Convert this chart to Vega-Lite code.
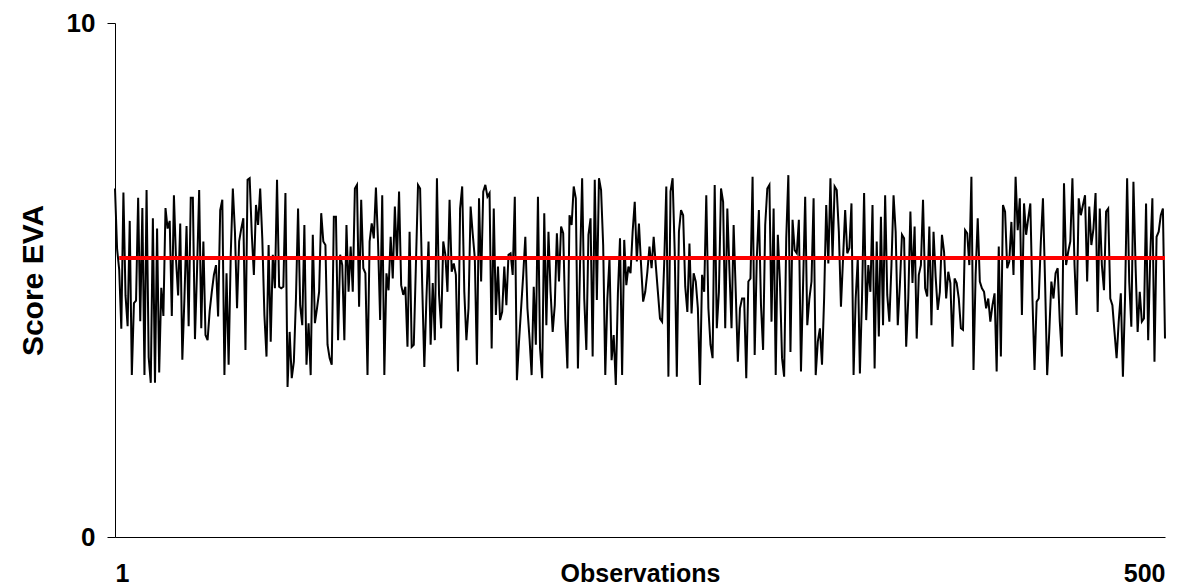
{
  "$schema": "https://vega.github.io/schema/vega-lite/v6.json",
  "width": 1050,
  "height": 514,
  "autosize": {"type": "none"},
  "padding": {"left": 115, "top": 23, "right": 33, "bottom": 48},
  "background": "white",
  "config": {"view": {"stroke": null}, "font": "Liberation Sans"},
  "datasets": {
    "scores": [
      {"o":1,"v":6.78},{"o":2,"v":5.6},{"o":3,"v":5.2},{"o":4,"v":4.05},{"o":5,"v":6.7},{"o":6,"v":4.7},{"o":7,"v":4.1},{"o":8,"v":6.15},{"o":9,"v":3.15},{"o":10,"v":4.55},
      {"o":11,"v":4.6},{"o":12,"v":6.6},{"o":13,"v":4.2},{"o":14,"v":6.4},{"o":15,"v":3.15},{"o":16,"v":6.75},{"o":17,"v":3.5},{"o":18,"v":3.0},{"o":19,"v":6.2},{"o":20,"v":3.0},
      {"o":21,"v":6.0},{"o":22,"v":3.2},{"o":23,"v":4.85},{"o":24,"v":4.3},{"o":25,"v":6.4},{"o":26,"v":6.0},{"o":27,"v":6.15},{"o":28,"v":4.3},{"o":29,"v":6.65},{"o":30,"v":5.4},
      {"o":31,"v":4.7},{"o":32,"v":6.1},{"o":33,"v":3.45},{"o":34,"v":4.65},{"o":35,"v":6.05},{"o":36,"v":4.1},{"o":37,"v":6.6},{"o":38,"v":6.6},{"o":39,"v":3.85},{"o":40,"v":5.2},
      {"o":41,"v":6.75},{"o":42,"v":4.06},{"o":43,"v":5.75},{"o":44,"v":3.93},{"o":45,"v":3.83},{"o":46,"v":4.4},{"o":47,"v":4.77},{"o":48,"v":5.1},{"o":49,"v":5.29},{"o":50,"v":4.29},
      {"o":51,"v":6.36},{"o":52,"v":6.56},{"o":53,"v":3.15},{"o":54,"v":5.13},{"o":55,"v":3.35},{"o":56,"v":5.49},{"o":57,"v":6.78},{"o":58,"v":5.94},{"o":59,"v":4.45},{"o":60,"v":5.75},
      {"o":61,"v":6.0},{"o":62,"v":6.2},{"o":63,"v":3.64},{"o":64,"v":6.95},{"o":65,"v":6.98},{"o":66,"v":5.9},{"o":67,"v":5.1},{"o":68,"v":6.46},{"o":69,"v":6.07},{"o":70,"v":6.78},
      {"o":71,"v":5.81},{"o":72,"v":4.32},{"o":73,"v":3.51},{"o":74,"v":5.68},{"o":75,"v":3.8},{"o":76,"v":5.49},{"o":77,"v":4.84},{"o":78,"v":6.95},{"o":79,"v":4.87},{"o":80,"v":4.84},
      {"o":81,"v":4.87},{"o":82,"v":6.69},{"o":83,"v":2.92},{"o":84,"v":3.99},{"o":85,"v":3.09},{"o":86,"v":3.41},{"o":87,"v":4.64},{"o":88,"v":6.39},{"o":89,"v":4.51},{"o":90,"v":4.12},
      {"o":91,"v":6.07},{"o":92,"v":3.35},{"o":93,"v":4.16},{"o":94,"v":3.15},{"o":95,"v":5.88},{"o":96,"v":4.16},{"o":97,"v":4.45},{"o":98,"v":4.77},{"o":99,"v":6.3},{"o":100,"v":5.75},
      {"o":101,"v":5.68},{"o":102,"v":3.74},{"o":103,"v":3.48},{"o":104,"v":3.35},{"o":105,"v":6.23},{"o":106,"v":6.23},{"o":107,"v":3.83},{"o":108,"v":5.49},{"o":109,"v":5.29},{"o":110,"v":3.83},
      {"o":111,"v":6.07},{"o":112,"v":4.77},{"o":113,"v":5.65},{"o":114,"v":4.77},{"o":115,"v":6.78},{"o":116,"v":6.85},{"o":117,"v":4.48},{"o":118,"v":6.56},{"o":119,"v":5.23},{"o":120,"v":5.13},
      {"o":121,"v":3.15},{"o":122,"v":5.75},{"o":123,"v":6.1},{"o":124,"v":5.81},{"o":125,"v":6.8},{"o":126,"v":5.75},{"o":127,"v":4.22},{"o":128,"v":6.65},{"o":129,"v":3.15},{"o":130,"v":5.13},
      {"o":131,"v":4.8},{"o":132,"v":5.84},{"o":133,"v":5.03},{"o":134,"v":6.43},{"o":135,"v":5.39},{"o":136,"v":6.72},{"o":137,"v":4.9},{"o":138,"v":4.71},{"o":139,"v":4.87},{"o":140,"v":3.7},
      {"o":141,"v":5.94},{"o":142,"v":3.7},{"o":143,"v":3.74},{"o":144,"v":5.29},{"o":145,"v":6.85},{"o":146,"v":6.78},{"o":147,"v":4.9},{"o":148,"v":3.31},{"o":149,"v":4.64},{"o":150,"v":5.75},
      {"o":151,"v":3.74},{"o":152,"v":4.94},{"o":153,"v":3.83},{"o":154,"v":6.98},{"o":155,"v":4.71},{"o":156,"v":4.06},{"o":157,"v":5.75},{"o":158,"v":5.49},{"o":159,"v":4.77},{"o":160,"v":6.56},
      {"o":161,"v":5.16},{"o":162,"v":5.32},{"o":163,"v":5.1},{"o":164,"v":3.22},{"o":165,"v":6.39},{"o":166,"v":6.82},{"o":167,"v":4.77},{"o":168,"v":3.83},{"o":169,"v":4.45},{"o":170,"v":6.43},
      {"o":171,"v":5.9},{"o":172,"v":5.42},{"o":173,"v":3.35},{"o":174,"v":6.59},{"o":175,"v":4.97},{"o":176,"v":6.72},{"o":177,"v":6.85},{"o":178,"v":6.62},{"o":179,"v":6.69},{"o":180,"v":3.67},
      {"o":181,"v":6.39},{"o":182,"v":4.32},{"o":183,"v":5.26},{"o":184,"v":4.22},{"o":185,"v":4.38},{"o":186,"v":5.26},{"o":187,"v":4.51},{"o":188,"v":5.49},{"o":189,"v":5.52},{"o":190,"v":5.1},
      {"o":191,"v":6.62},{"o":192,"v":3.05},{"o":193,"v":3.8},{"o":194,"v":4.45},{"o":195,"v":5.1},{"o":196,"v":5.84},{"o":197,"v":4.45},{"o":198,"v":3.86},{"o":199,"v":3.15},{"o":200,"v":4.87},
      {"o":201,"v":3.74},{"o":202,"v":6.62},{"o":203,"v":3.67},{"o":204,"v":3.09},{"o":205,"v":6.3},{"o":206,"v":4.12},{"o":207,"v":5.94},{"o":208,"v":4.77},{"o":209,"v":3.99},{"o":210,"v":4.51},
      {"o":211,"v":5.91},{"o":212,"v":4.97},{"o":213,"v":6.04},{"o":214,"v":5.91},{"o":215,"v":4.25},{"o":216,"v":3.28},{"o":217,"v":6.26},{"o":218,"v":6.07},{"o":219,"v":6.82},{"o":220,"v":6.59},
      {"o":221,"v":3.28},{"o":222,"v":5.29},{"o":223,"v":6.98},{"o":224,"v":4.64},{"o":225,"v":3.64},{"o":226,"v":5.88},{"o":227,"v":6.2},{"o":228,"v":3.51},{"o":229,"v":6.95},{"o":230,"v":4.61},
      {"o":231,"v":6.98},{"o":232,"v":6.75},{"o":233,"v":5.68},{"o":234,"v":3.15},{"o":235,"v":4.64},{"o":236,"v":5.42},{"o":237,"v":3.44},{"o":238,"v":3.93},{"o":239,"v":2.96},{"o":240,"v":4.74},
      {"o":241,"v":5.81},{"o":242,"v":3.15},{"o":243,"v":5.78},{"o":244,"v":4.9},{"o":245,"v":5.26},{"o":246,"v":5.13},{"o":247,"v":5.94},{"o":248,"v":6.52},{"o":249,"v":5.36},{"o":250,"v":6.1},
      {"o":251,"v":5.3},{"o":252,"v":4.58},{"o":253,"v":4.77},{"o":254,"v":5.16},{"o":255,"v":5.65},{"o":256,"v":5.23},{"o":257,"v":5.84},{"o":258,"v":5.29},{"o":259,"v":4.77},{"o":260,"v":4.25},
      {"o":261,"v":4.19},{"o":262,"v":5.32},{"o":263,"v":6.82},{"o":264,"v":3.12},{"o":265,"v":6.72},{"o":266,"v":6.98},{"o":267,"v":5.55},{"o":268,"v":3.12},{"o":269,"v":5.94},{"o":270,"v":6.36},
      {"o":271,"v":6.26},{"o":272,"v":4.87},{"o":273,"v":4.38},{"o":274,"v":5.71},{"o":275,"v":4.35},{"o":276,"v":5.13},{"o":277,"v":4.97},{"o":278,"v":4.45},{"o":279,"v":2.96},{"o":280,"v":5.1},
      {"o":281,"v":4.77},{"o":282,"v":6.65},{"o":283,"v":4.45},{"o":284,"v":3.74},{"o":285,"v":3.48},{"o":286,"v":6.85},{"o":287,"v":4.06},{"o":288,"v":4.77},{"o":289,"v":6.78},{"o":290,"v":6.52},
      {"o":291,"v":4.06},{"o":292,"v":6.39},{"o":293,"v":5.2},{"o":294,"v":4.06},{"o":295,"v":6.07},{"o":296,"v":4.77},{"o":297,"v":3.41},{"o":298,"v":4.45},{"o":299,"v":4.64},{"o":300,"v":4.64},
      {"o":301,"v":3.09},{"o":302,"v":4.97},{"o":303,"v":5.03},{"o":304,"v":7.01},{"o":305,"v":3.54},{"o":306,"v":5.42},{"o":307,"v":6.36},{"o":308,"v":4.51},{"o":309,"v":3.64},{"o":310,"v":6.07},
      {"o":311,"v":6.78},{"o":312,"v":6.85},{"o":313,"v":4.19},{"o":314,"v":6.39},{"o":315,"v":3.15},{"o":316,"v":5.88},{"o":317,"v":4.97},{"o":318,"v":3.48},{"o":319,"v":3.12},{"o":320,"v":5.81},
      {"o":321,"v":7.04},{"o":322,"v":3.6},{"o":323,"v":6.17},{"o":324,"v":5.58},{"o":325,"v":5.52},{"o":326,"v":6.17},{"o":327,"v":3.22},{"o":328,"v":4.9},{"o":329,"v":6.62},{"o":330,"v":4.12},
      {"o":331,"v":4.64},{"o":332,"v":4.97},{"o":333,"v":6.59},{"o":334,"v":3.15},{"o":335,"v":3.8},{"o":336,"v":4.06},{"o":337,"v":3.35},{"o":338,"v":4.64},{"o":339,"v":6.46},{"o":340,"v":5.32},
      {"o":341,"v":6.98},{"o":342,"v":5.42},{"o":343,"v":6.82},{"o":344,"v":6.75},{"o":345,"v":5.94},{"o":346,"v":4.48},{"o":347,"v":5.42},{"o":348,"v":6.36},{"o":349,"v":5.52},{"o":350,"v":5.62},
      {"o":351,"v":6.49},{"o":352,"v":3.15},{"o":353,"v":4.64},{"o":354,"v":5.42},{"o":355,"v":3.18},{"o":356,"v":4.64},{"o":357,"v":6.69},{"o":358,"v":4.22},{"o":359,"v":5.29},{"o":360,"v":4.77},
      {"o":361,"v":6.46},{"o":362,"v":3.28},{"o":363,"v":5.75},{"o":364,"v":3.9},{"o":365,"v":6.23},{"o":366,"v":4.12},{"o":367,"v":6.65},{"o":368,"v":4.71},{"o":369,"v":4.19},{"o":370,"v":5.29},
      {"o":371,"v":6.65},{"o":372,"v":5.94},{"o":373,"v":4.12},{"o":374,"v":4.9},{"o":375,"v":5.88},{"o":376,"v":5.81},{"o":377,"v":3.7},{"o":378,"v":4.64},{"o":379,"v":6.33},{"o":380,"v":4.94},
      {"o":381,"v":6.04},{"o":382,"v":3.86},{"o":383,"v":5.1},{"o":384,"v":5.29},{"o":385,"v":6.56},{"o":386,"v":4.84},{"o":387,"v":4.68},{"o":388,"v":6.04},{"o":389,"v":4.12},{"o":390,"v":5.94},
      {"o":391,"v":5.06},{"o":392,"v":4.42},{"o":393,"v":4.77},{"o":394,"v":5.88},{"o":395,"v":5.55},{"o":396,"v":4.64},{"o":397,"v":5.16},{"o":398,"v":4.94},{"o":399,"v":3.7},{"o":400,"v":5.03},
      {"o":401,"v":4.94},{"o":402,"v":4.64},{"o":403,"v":4.06},{"o":404,"v":4.03},{"o":405,"v":5.97},{"o":406,"v":5.91},{"o":407,"v":5.29},{"o":408,"v":7.01},{"o":409,"v":3.25},{"o":410,"v":5.1},
      {"o":411,"v":6.2},{"o":412,"v":4.97},{"o":413,"v":4.84},{"o":414,"v":4.77},{"o":415,"v":4.45},{"o":416,"v":4.64},{"o":417,"v":4.19},{"o":418,"v":4.51},{"o":419,"v":4.74},{"o":420,"v":3.22},
      {"o":421,"v":5.65},{"o":422,"v":3.51},{"o":423,"v":6.46},{"o":424,"v":6.33},{"o":425,"v":5.23},{"o":426,"v":5.36},{"o":427,"v":6.13},{"o":428,"v":5.1},{"o":429,"v":7.01},{"o":430,"v":5.97},
      {"o":431,"v":6.59},{"o":432,"v":4.32},{"o":433,"v":6.49},{"o":434,"v":5.88},{"o":435,"v":6.2},{"o":436,"v":6.49},{"o":437,"v":4.64},{"o":438,"v":3.25},{"o":439,"v":4.58},{"o":440,"v":4.64},
      {"o":441,"v":5.75},{"o":442,"v":6.59},{"o":443,"v":4.97},{"o":444,"v":3.15},{"o":445,"v":3.99},{"o":446,"v":4.97},{"o":447,"v":4.64},{"o":448,"v":5.13},{"o":449,"v":5.23},{"o":450,"v":4.19},
      {"o":451,"v":3.51},{"o":452,"v":6.88},{"o":453,"v":5.29},{"o":454,"v":5.55},{"o":455,"v":5.75},{"o":456,"v":6.98},{"o":457,"v":5.29},{"o":458,"v":4.32},{"o":459,"v":6.59},{"o":460,"v":6.26},
      {"o":461,"v":6.46},{"o":462,"v":6.65},{"o":463,"v":4.97},{"o":464,"v":6.43},{"o":465,"v":5.68},{"o":466,"v":6.0},{"o":467,"v":6.69},{"o":468,"v":4.38},{"o":469,"v":6.39},{"o":470,"v":5.29},
      {"o":471,"v":4.8},{"o":472,"v":6.33},{"o":473,"v":6.39},{"o":474,"v":4.64},{"o":475,"v":4.51},{"o":476,"v":3.99},{"o":477,"v":3.48},{"o":478,"v":4.19},{"o":479,"v":4.74},{"o":480,"v":3.12},
      {"o":481,"v":4.64},{"o":482,"v":6.98},{"o":483,"v":4.97},{"o":484,"v":4.09},{"o":485,"v":6.91},{"o":486,"v":5.29},{"o":487,"v":3.99},{"o":488,"v":4.77},{"o":489,"v":4.19},{"o":490,"v":4.25},
      {"o":491,"v":6.49},{"o":492,"v":3.83},{"o":493,"v":5.49},{"o":494,"v":6.59},{"o":495,"v":3.41},{"o":496,"v":5.84},{"o":497,"v":5.94},{"o":498,"v":6.26},{"o":499,"v":6.39},{"o":500,"v":3.86}
    ],
    "mean": [{"o": 3, "v": 5.43}, {"o": 500, "v": 5.43}]
  },
  "layer": [
    {
      "data": {"name": "scores"},
      "mark": {"type": "line", "color": "black", "strokeWidth": 2, "interpolate": "linear"},
      "encoding": {
        "x": {
          "field": "o", "type": "quantitative",
          "scale": {"domain": [1, 500], "nice": false, "zero": false},
          "axis": {
            "values": [1, 500], "grid": false, "domainColor": "black", "domainWidth": 1,
            "ticks": false, "labelFlush": true, "labelPadding": 24,
            "labelFont": "Liberation Sans", "labelFontSize": 25, "labelFontWeight": "bold", "labelColor": "black",
            "title": "Observations", "titleFont": "Liberation Sans", "titleFontSize": 25, "titleFontWeight": "bold",
            "titleColor": "black", "titleY": 24, "titleBaseline": "top"
          }
        },
        "y": {
          "field": "v", "type": "quantitative",
          "scale": {"domain": [0, 10], "nice": false},
          "axis": {
            "values": [0, 10], "grid": false, "domainColor": "black", "domainWidth": 1,
            "tickColor": "black", "tickSize": 8, "labelPadding": 12,
            "labelFont": "Liberation Sans", "labelFontSize": 26, "labelFontWeight": "bold", "labelColor": "black",
            "title": "Score EVA", "titleFont": "Liberation Sans", "titleFontSize": 30, "titleFontWeight": "bold",
            "titleColor": "black", "titlePadding": 18
          }
        }
      }
    },
    {
      "data": {"name": "mean"},
      "mark": {"type": "line", "color": "#ff0000", "strokeWidth": 4},
      "encoding": {
        "x": {"field": "o", "type": "quantitative"},
        "y": {"field": "v", "type": "quantitative"}
      }
    }
  ]
}
